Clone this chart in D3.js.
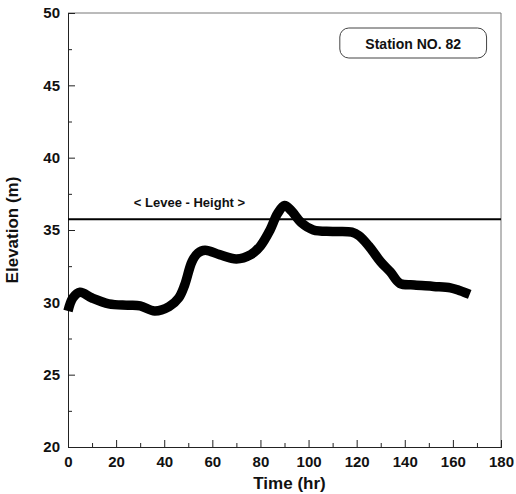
<!DOCTYPE html>
<html>
<head>
<meta charset="utf-8">
<script src="https://cdn.jsdelivr.net/npm/d3@7"></script>
<style>
  body { margin: 0; background: #fff; }
  text { font-family: "Liberation Sans", Arial, sans-serif; font-weight: bold; fill: #111; }
</style>
</head>
<body>
<div id="chart"></div>
<script>
// time (hr) and water surface elevation (m)
const timeHr = [0, 2, 5, 10, 17, 25, 30, 36, 42, 46, 48.5, 51.5, 54, 57, 63, 70, 76, 80, 84, 87, 90, 93, 97, 102, 110, 118, 121, 125, 130, 134, 138, 144, 152, 159, 163, 167];
const elevation = [29.4, 30.3, 30.7, 30.3, 29.9, 29.8, 29.75, 29.4, 29.7, 30.3, 31.2, 32.8, 33.4, 33.6, 33.3, 33.0, 33.3, 33.9, 35.0, 36.1, 36.7, 36.3, 35.5, 35.0, 34.9, 34.85, 34.6, 33.9, 32.8, 32.1, 31.3, 31.2, 31.1, 31.0, 30.8, 30.55];
const leveeHeight = 35.75;
const xTicks = [0, 20, 40, 60, 80, 100, 120, 140, 160, 180];
const yTicks = [20, 25, 30, 35, 40, 45, 50];
const stationLabel = "Station NO. 82";
const leveeLabel = "< Levee - Height >";

const W = 516, H = 494;
const margin = { top: 13, right: 15, bottom: 47, left: 68 };
const width = W - margin.left - margin.right;
const height = H - margin.top - margin.bottom;

const data = timeHr.map((t, i) => ({ t: t, e: elevation[i] }));

const x = d3.scaleLinear().domain([0, 180]).range([0, width]);
const y = d3.scaleLinear().domain([20, 50]).range([height, 0]);

const svg = d3.select("#chart")
  .append("svg")
    .attr("width", W)
    .attr("height", H)
  .append("g")
    .attr("transform", `translate(${margin.left}, ${margin.top})`);

// frame: top and right are thin grey
svg.append("line").attr("x1", 0).attr("x2", width).attr("y1", 0).attr("y2", 0)
  .attr("stroke", "#777").attr("stroke-width", 1);
svg.append("line").attr("x1", width).attr("x2", width).attr("y1", 0).attr("y2", height)
  .attr("stroke", "#777").attr("stroke-width", 1);

// axes, ticks pointing inward
const xMinor = d3.axisBottom(x).tickValues(d3.range(10, 180, 20)).tickSize(-4).tickFormat("");
const xAxis = d3.axisBottom(x).tickValues(xTicks).tickSize(-7).tickPadding(9).tickFormat(d3.format("d"));
const yMinor = d3.axisLeft(y).tickValues(d3.range(22.5, 50, 5)).tickSize(-4).tickFormat("");
const yAxis = d3.axisLeft(y).tickValues(yTicks).tickSize(-7).tickPadding(8).tickFormat(d3.format("d"));

svg.append("g").attr("transform", `translate(0, ${height})`).call(xMinor);
const gx = svg.append("g").attr("transform", `translate(0, ${height})`).call(xAxis);
svg.append("g").call(yMinor);
const gy = svg.append("g").call(yAxis);

svg.selectAll(".domain").attr("stroke", "#222");
svg.selectAll(".tick line").attr("stroke", "#222");
gx.selectAll("text").style("font-size", "15px").style("font-family", "Liberation Sans, Arial, sans-serif").style("font-weight", "bold");
gy.selectAll("text").style("font-size", "15px").style("font-family", "Liberation Sans, Arial, sans-serif").style("font-weight", "bold");

// axis titles
svg.append("text")
  .attr("x", width / 2 + 5)
  .attr("y", height + 42)
  .attr("text-anchor", "middle")
  .style("font-size", "17px")
  .text("Time (hr)");

svg.append("text")
  .attr("transform", `translate(${-50}, ${height / 2}) rotate(-90)`)
  .attr("text-anchor", "middle")
  .style("font-size", "17px")
  .text("Elevation (m)");

// levee line
svg.append("line")
  .attr("x1", 0).attr("x2", width)
  .attr("y1", y(leveeHeight)).attr("y2", y(leveeHeight))
  .attr("stroke", "#000").attr("stroke-width", 2);

svg.append("text")
  .attr("x", x(50.5))
  .attr("y", y(leveeHeight) - 12)
  .attr("text-anchor", "middle")
  .style("font-size", "13px")
  .text(leveeLabel);

// elevation hydrograph
const line = d3.line()
  .curve(d3.curveCatmullRom.alpha(0.5))
  .x(d => x(d.t))
  .y(d => y(d.e));

svg.append("path")
  .datum(data)
  .attr("d", line)
  .attr("fill", "none")
  .attr("stroke", "#000")
  .attr("stroke-width", 9.5)
  .attr("stroke-linejoin", "round");

// station box
const bx = x(113), bw = x(174) - x(113);
svg.append("rect")
  .attr("x", bx).attr("y", 15)
  .attr("width", bw).attr("height", 30)
  .attr("rx", 9)
  .attr("fill", "#fff")
  .attr("stroke", "#444")
  .attr("stroke-width", 1);

svg.append("text")
  .attr("x", bx + bw / 2)
  .attr("y", 36)
  .attr("text-anchor", "middle")
  .style("font-size", "14px")
  .text(stationLabel);
</script>
</body>
</html>
